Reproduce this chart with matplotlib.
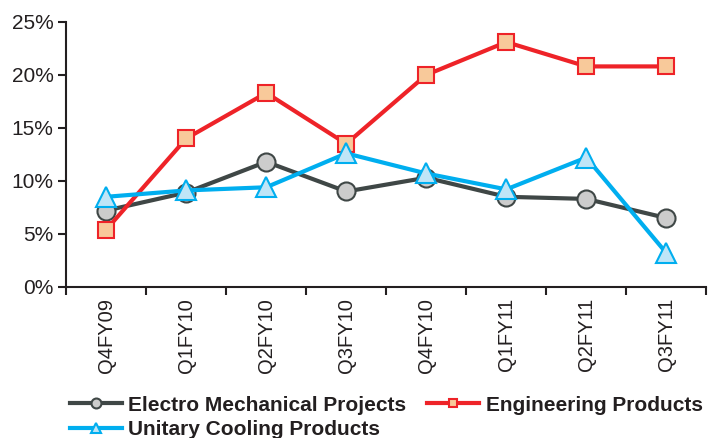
import matplotlib.pyplot as plt
import numpy as np
from matplotlib.ticker import FixedLocator

plt.rcParams['font.family'] = ['Liberation Sans', 'DejaVu Sans']

quarters = ["Q4FY09", "Q1FY10", "Q2FY10", "Q3FY10", "Q4FY10", "Q1FY11", "Q2FY11", "Q3FY11"]
electro = [7.2, 8.9, 11.8, 9.0, 10.3, 8.5, 8.3, 6.5]
engineering = [5.4, 14.0, 18.3, 13.5, 20.0, 23.1, 20.8, 20.8]
unitary = [8.5, 9.1, 9.4, 12.6, 10.7, 9.2, 12.2, 3.2]

fig = plt.figure(figsize=(7.12, 4.38), dpi=100)
ax = fig.add_axes([0.093, 0.345, 0.899, 0.605])

x = np.arange(len(quarters))
l1, = ax.plot(x, electro, color="#3f4746", lw=3, marker="o", ms=13,
              mfc="#cccccc", mec="#3f4746", mew=1.5, label="Electro Mechanical Projects")
l2, = ax.plot(x, engineering, color="#ee2328", lw=3, marker="s", ms=11,
              mfc="#f8c99a", mec="#ee2328", mew=1.5, label="Engineering Products")
l3, = ax.plot(x, unitary, color="#00aeef", lw=3, marker="^", ms=14,
              mfc="#bfe5f7", mec="#00aeef", mew=1.5, label="Unitary Cooling Products")

ax.set_xlim(-0.5, len(quarters) - 0.5)
ax.set_ylim(0, 25)
ax.set_yticks(range(0, 26, 5))
ax.set_yticklabels([f"{v}%" for v in range(0, 26, 5)], fontsize=15, color="#231f20")
ax.set_xticks(x)
ax.set_xticklabels(quarters, rotation=90, fontsize=14.5, color="#231f20")
ax.xaxis.set_minor_locator(FixedLocator(np.arange(-0.5, len(quarters), 1)))
ax.tick_params(axis="x", which="major", length=0, pad=8)
ax.tick_params(axis="x", which="minor", length=6, width=1.5, color="#231f20")
ax.tick_params(axis="y", length=6, width=1.5, color="#231f20", pad=3)

for side in ["top", "right"]:
    ax.spines[side].set_visible(False)
for side in ["left", "bottom"]:
    ax.spines[side].set_linewidth(1.5)
    ax.spines[side].set_color("#231f20")

# legend fills column-wise, so order handles to get two per row
leg = fig.legend([l1, l3, l2], [l1.get_label(), l3.get_label(), l2.get_label()],
                 loc="lower left", bbox_to_anchor=(0.072, -0.045), ncol=2, frameon=False,
                 prop={"weight": "bold", "size": 15}, handlelength=2.5, handletextpad=0.3,
                 columnspacing=1.0, labelspacing=0.25, markerscale=0.55)
for t in leg.get_texts():
    t.set_color("#231f20")

fig.savefig("out.png", dpi=100)
